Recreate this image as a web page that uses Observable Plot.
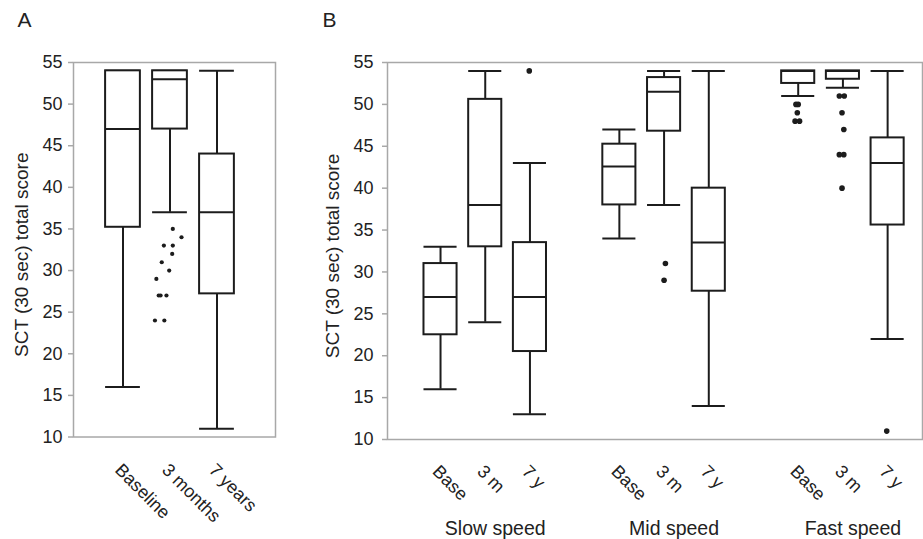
<!DOCTYPE html>
<html><head><meta charset="utf-8">
<script src="https://cdn.jsdelivr.net/npm/d3@7"></script>
<script src="https://cdn.jsdelivr.net/npm/@observablehq/plot@0.6"></script>
<style>
body{margin:0;background:#fff;}
#wrap{position:relative;width:923px;height:539px;overflow:hidden;background:#fff;}
#wrap svg{position:absolute;top:0;}
</style></head><body><div id="wrap"></div>
<script>
// ---------- Data ----------
const yTicks = [10, 15, 20, 25, 30, 35, 40, 45, 50, 55];
const yLabel = "SCT (30 sec) total score";

// Panel A
const timesA = ["Baseline", "3 months", "7 years"];
const lowA  = [16, 37, 11];
const q1A   = [35.2, 47, 27.2];
const medA  = [47, 53, 37];
const q3A   = [54, 54, 44];
const highA = [54, 54, 54];
const outA_box    = [1, 1, 1, 1, 1, 1, 1, 1, 1, 1, 1, 1, 1];
const outA_value  = [35, 34, 33, 33, 32, 31, 30, 29, 27, 27, 27, 24, 24];
const outA_jitter = [0.06, 0.245, -0.13, 0.06, 0.047, -0.175, -0.017, -0.29, -0.24, -0.2, -0.075, -0.32, -0.12];

// Panel B
const speeds = ["Slow speed", "Mid speed", "Fast speed"];
const timesB = ["Base", "3 m", "7 y"];
const lowB  = [16, 24, 13,   34, 38, 14,   51, 52, 22];
const q1B   = [22.5, 33, 20.5, 38, 46.8, 27.7, 52.5, 53, 35.6];
const medB  = [27, 38, 27,   42.6, 51.5, 33.5, 54, 54, 43];
const q3B   = [31, 50.6, 33.5, 45.25, 53.2, 40, 54, 54, 46];
const highB = [33, 54, 43,   47, 54, 54,   54, 54, 54];
const outB_box    = [2, 4, 4, 6, 6, 6, 6, 6, 7, 7, 7, 7, 7, 7, 7, 8];
const outB_value  = [54, 31, 29, 50, 50, 49, 48, 48, 51, 51, 49, 47, 44, 44, 40, 11];
const outB_jitter = [-0.015, 0.03, 0, -0.05, 0, -0.02, -0.07, 0.03, -0.08, 0.03, -0.02, 0.02, -0.08, 0.02, -0.02, -0.02];

// ---------- Styling ----------
const ink = "#1c1c1c";
const gray = "#a8a8a8";
const font = "'Liberation Sans', Arial, Helvetica, sans-serif";
const half = 0.37;

function boxMarks(rows, outs, r) {
  const lw = 2;
  return [
    Plot.ruleX(rows, {x: "pos", y1: "q3", y2: "high", stroke: ink, strokeWidth: lw}),
    Plot.ruleX(rows, {x: "pos", y1: "low", y2: "q1", stroke: ink, strokeWidth: lw}),
    Plot.ruleY(rows, {y: "high", x1: d => d.pos - half, x2: d => d.pos + half, stroke: ink, strokeWidth: lw}),
    Plot.ruleY(rows, {y: "low", x1: d => d.pos - half, x2: d => d.pos + half, stroke: ink, strokeWidth: lw}),
    Plot.rect(rows, {x1: d => d.pos - half, x2: d => d.pos + half, y1: "q1", y2: "q3", fill: "white", stroke: ink, strokeWidth: lw}),
    Plot.ruleY(rows, {y: "med", x1: d => d.pos - half, x2: d => d.pos + half, stroke: ink, strokeWidth: lw}),
    Plot.dot(outs, {x: d => d.pos + d.j, y: "value", r, fill: ink, stroke: "none"})
  ];
}

// ---------- Panel A ----------
const rowsA = timesA.map((t, i) => ({t, pos: i, low: lowA[i], q1: q1A[i], med: medA[i], q3: q3A[i], high: highA[i]}));
const outsA = outA_value.map((v, k) => ({pos: outA_box[k], value: v, j: outA_jitter[k]}));

const plotA = Plot.plot({
  width: 290, height: 539,
  marginLeft: 73, marginRight: 15, marginTop: 62, marginBottom: 102.5,
  style: {fontFamily: font, background: "white", overflow: "visible"},
  x: {domain: [-1.053, 3.245], axis: null},
  y: {domain: [10, 55], axis: null},
  marks: [
    Plot.frame({stroke: gray, strokeWidth: 1.5}),
    Plot.axisY({ticks: yTicks, tickSize: 5, tickPadding: 6, stroke: gray, strokeWidth: 1.5, fill: "#222", fontSize: 18, label: null}),
    ...boxMarks(rowsA, outsA, 2.1),
    Plot.text(timesA, {x: (d, i) => i, frameAnchor: "bottom", dy: 25, rotate: 45, textAnchor: "start", lineAnchor: "top", fontSize: 18, fill: "#222"}),
    Plot.text([yLabel], {frameAnchor: "left", rotate: -90, dx: -59, dy: 5, textAnchor: "middle", lineAnchor: "top", fontSize: 19, fill: "#222"}),
    Plot.text(["A"], {frameAnchor: "top-left", dx: -56, dy: -50, textAnchor: "start", lineAnchor: "top", fontSize: 21, fill: "#222"})
  ]
});

// ---------- Panel B ----------
const rowsB = lowB.map((_, i) => ({
  t: timesB[i % 3], g: Math.floor(i / 3), pos: Math.floor(i / 3) * 4 + (i % 3),
  low: lowB[i], q1: q1B[i], med: medB[i], q3: q3B[i], high: highB[i]
}));
const outsB = outB_value.map((v, k) => ({pos: rowsB[outB_box[k]].pos, value: v, j: outB_jitter[k]}));

const plotB = Plot.plot({
  width: 623, height: 539,
  marginLeft: 87, marginRight: 1, marginTop: 62, marginBottom: 100,
  style: {fontFamily: font, background: "white", overflow: "visible"},
  x: {domain: [-1.186, 10.78], axis: null},
  y: {domain: [10, 55], axis: null},
  marks: [
    Plot.frame({stroke: gray, strokeWidth: 1.5}),
    Plot.axisY({ticks: yTicks, tickSize: 5, tickPadding: 9, stroke: gray, strokeWidth: 1.5, fill: "#222", fontSize: 18, label: null}),
    ...boxMarks(rowsB, outsB, 2.8),
    Plot.text(rowsB, {x: "pos", text: "t", frameAnchor: "bottom", dy: 24, rotate: 45, textAnchor: "start", lineAnchor: "top", fontSize: 18, fill: "#222"}),
    Plot.text(speeds, {x: (d, i) => i * 4 + 1, frameAnchor: "bottom", dx: 10, dy: 82, textAnchor: "middle", lineAnchor: "top", fontSize: 19.5, fill: "#222"}),
    Plot.text([yLabel], {frameAnchor: "left", rotate: -90, dx: -62, dy: 5, textAnchor: "middle", lineAnchor: "top", fontSize: 19, fill: "#222"}),
    Plot.text(["B"], {frameAnchor: "top-left", dx: -65, dy: -50, textAnchor: "start", lineAnchor: "top", fontSize: 21, fill: "#222"})
  ]
});

const wrap = document.getElementById("wrap");
plotA.style.left = "0px";
plotB.style.left = "300px";
wrap.appendChild(plotA);
wrap.appendChild(plotB);
</script>
</body></html>
